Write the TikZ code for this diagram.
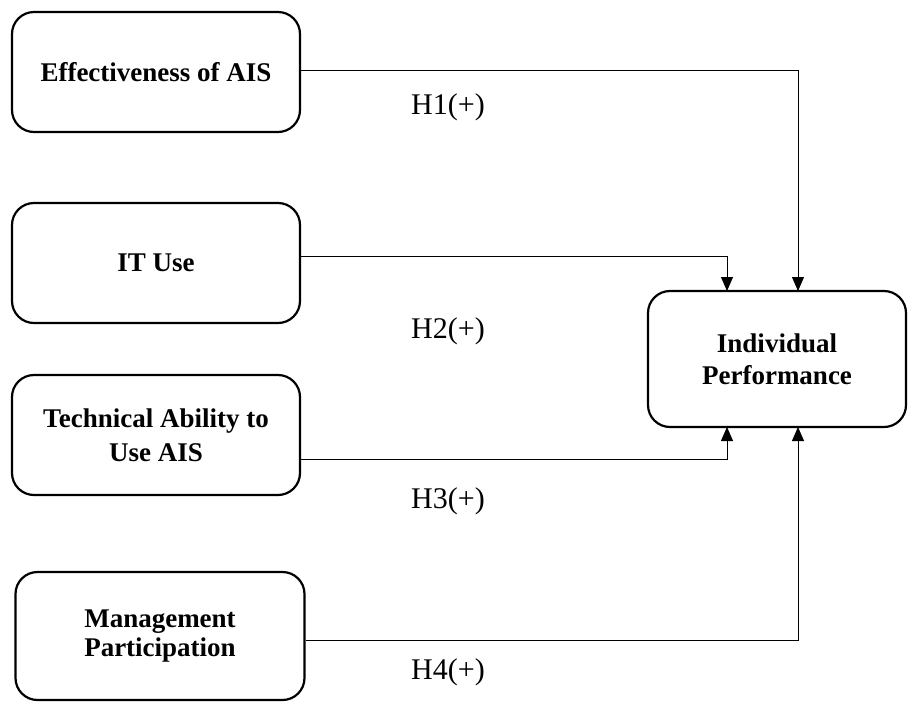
\documentclass[tikz,border=0pt]{standalone}
\usepackage{fontspec}
\setmainfont{Liberation Serif}
\usetikzlibrary{arrows.meta}
\begin{document}
\begin{tikzpicture}[x=1pt,y=-1pt,
  box/.style={draw, line width=2.2pt, rounded corners=22pt, align=center, font=\fontsize{27}{34}\selectfont\bfseries, inner sep=0pt},
  conn/.style={line width=0.9pt, -{Triangle[length=14pt,width=12pt]}},
  lab/.style={font=\fontsize{30}{34}\selectfont, inner sep=0pt}]
\useasboundingbox (0,0) rectangle (908,702);
\node[box, minimum width=288pt, minimum height=120pt] (a) at (156,72) {Effectiveness of AIS};
\node[box, minimum width=288pt, minimum height=120pt] (b) at (156,263) {IT Use};
\node[box, minimum width=288pt, minimum height=120pt] (c) at (156,435) {Technical Ability to\\Use AIS};
\node[box, minimum width=289pt, minimum height=128pt, font=\fontsize{27}{29}\selectfont\bfseries] (d) at (160,636) {Management\\Participation};
\node[box, minimum width=258pt, minimum height=136pt, font=\fontsize{27}{32}\selectfont\bfseries] (p) at (777,359) {Individual\\Performance};
\coordinate (pa) at (798,291);
\coordinate (pb) at (727,291);
\coordinate (pc) at (727,427);
\coordinate (pd) at (798,427);
\draw[conn] (a.east |- 0,70) -| (pa);
\draw[conn] (b.east |- 0,256) -| (pb);
\draw[conn] (c.east |- 0,459) -| (pc);
\draw[conn] (d.east |- 0,640) -| (pd);
\node[lab] (h1) at (448,107) {H1(+)};
\node[lab] (h2) at (448,331) {H2(+)};
\node[lab] (h3) at (448,501) {H3(+)};
\node[lab] (h4) at (448,672) {H4(+)};
\end{tikzpicture}
\end{document}
